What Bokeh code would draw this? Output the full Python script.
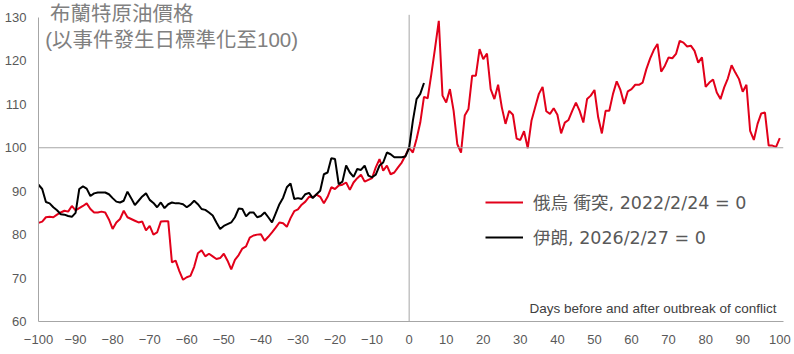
from bokeh.plotting import figure
from bokeh.models import Span, Label, Legend, LegendItem, FixedTicker
from bokeh.embed import file_html
from bokeh.resources import INLINE

# ---- data ----
days_russia = list(range(-100, 101))
brent_russia = [
    82.7, 83.0, 84.0, 84.1, 84.0, 84.6, 85.1, 85.5, 85.3, 86.6,
    85.6, 86.1, 86.6, 87.2, 85.9, 85.1, 85.1, 85.3, 85.1, 83.5,
    81.3, 82.8, 83.6, 85.5, 84.0, 83.6, 83.2, 82.8, 83.0, 81.0,
    82.0, 80.0, 80.5, 83.0, 83.1, 83.1,
    73.6, 74.0, 71.6, 69.6, 70.2, 70.5, 72.6, 75.7, 76.4, 75.0,
    75.6, 75.0, 74.4, 74.6, 75.6, 74.0, 72.0, 74.2, 75.3, 76.8,
    77.3, 79.3, 79.8, 80.0, 80.1, 78.6, 79.5,
    80.5, 81.6, 82.8, 82.6, 81.8, 83.8, 85.4, 85.8, 86.9, 87.6,
    88.7, 88.6, 89.2, 88.7, 87.2, 88.7, 90.9, 90.5, 91.3, 91.5,
    92.0,
    90.3, 92.0, 93.0, 93.8, 92.2, 92.6, 93.0, 95.5, 97.4,
    94.7, 95.9, 93.9, 94.3, 95.5, 96.6, 98.2, 100.0,
    98.9, 102.0, 105.8, 111.7, 111.4, 117.0, 123.0, 129.2, 112.0, 110.4,
    113.5, 108.5, 100.8, 98.9, 107.4, 108.9, 116.6, 116.6, 122.7, 120.4,
    121.7, 113.5, 111.2, 114.5, 109.3, 105.5, 108.5, 107.6, 102.1, 101.8,
    103.8, 99.9,
    106.2, 109.3, 112.4, 114.0, 108.4, 107.8, 109.1, 107.6,
    103.3, 105.8, 106.4, 108.5, 110.4, 108.5, 105.8, 111.2, 112.0, 113.3,
    107.0, 103.3, 108.5, 108.5, 112.4, 115.3, 113.3, 110.1, 113.0, 113.5,
    114.5, 114.5, 115.0, 118.1, 120.5,
    122.5, 123.9, 117.5, 118.9, 120.8,
    120.6, 121.6, 124.6, 124.2, 123.3, 123.5, 122.3, 119.6, 120.8, 114.0,
    115.0, 115.7, 112.7, 111.2, 113.9, 116.0, 119.0, 117.3, 115.8, 112.9,
    114.5, 103.9, 101.8, 105.5, 107.9, 108.1, 100.5, 100.5, 100.2, 102.2,
]

days_iran = list(range(-100, 5))
brent_iran = [
    91.5, 90.5, 87.5, 87.2, 86.3, 85.6, 84.7, 84.6, 84.3, 84.1,
    85.0, 90.5, 91.1, 90.6, 88.9, 89.5, 89.7, 89.7, 89.7, 89.3,
    88.4, 87.6, 87.4, 87.8, 89.9, 88.4, 86.8, 87.8, 88.8, 89.5,
    88.0, 87.3, 86.3,
    87.4, 86.1, 87.0, 87.4, 87.2, 87.2, 87.0, 86.3, 86.9, 87.8,
    87.0, 85.9, 85.7, 85.1, 84.4, 82.8, 81.3, 82.0, 82.4, 82.8,
    84.0, 86.0, 85.9, 84.2, 85.1, 85.1, 84.0, 84.3, 85.1, 84.0,
    82.8, 84.9, 87.0, 88.5, 90.9, 91.8, 88.2, 88.4, 88.2, 89.3,
    89.6, 88.4, 89.3, 90.1, 93.9, 94.3, 97.6, 97.4, 91.6, 92.2,
    95.9, 94.3, 93.3, 95.1, 94.9, 95.9, 93.6, 93.2, 93.8, 95.9,
    96.6, 98.9, 98.5, 97.8, 97.8, 97.8, 98.0, 100.0,
    106.2, 111.2, 112.4, 114.9,
]

x_ticks = list(range(-100, 101, 10))
y_ticks = list(range(60, 131, 10))

title_lines = ["布蘭特原油價格", "(以事件發生日標準化至100)"]
label_russia = "俄烏 衝突, 2022/2/24 = 0"
label_iran = "伊朗, 2026/2/27 = 0"
x_caption = "Days before and after outbreak of conflict"

RED = "#e2001a"
GRAY_AXIS = "#a6a6a6"
TEXT = "#595959"
TITLE_FONT = "'Liberation Sans', 'Noto Sans CJK TC'"
LEGEND_FONT = "'DejaVu Sans', 'Noto Sans CJK TC'"

y_lo, y_hi = y_ticks[0], y_ticks[-1]
y_view_top = 133.9      # a little head-room above the 130 tick for the title

p = figure(width=794, height=354, x_range=(-100, 101), y_range=(y_lo, y_view_top),
           output_backend="svg", toolbar_location=None,
           min_border_left=38, min_border_right=11,
           min_border_top=0, min_border_bottom=33)
p.xgrid.visible = False
p.ygrid.visible = False
p.outline_line_color = None
p.background_fill_color = "white"
p.border_fill_color = "white"

for ax in (p.xaxis[0], p.yaxis[0]):
    ax.axis_line_color = GRAY_AXIS
    ax.axis_line_width = 1
    ax.major_tick_line_color = None
    ax.minor_tick_line_color = None
    ax.major_tick_out = 0
    ax.major_tick_in = 0
    ax.minor_tick_out = 0
    ax.minor_tick_in = 0
    ax.major_label_text_font = "Liberation Sans"
    ax.major_label_text_font_size = "13px"
    ax.major_label_text_color = TEXT
p.xaxis[0].ticker = FixedTicker(ticks=x_ticks)
p.yaxis[0].ticker = FixedTicker(ticks=y_ticks)
p.yaxis[0].bounds = (y_lo, y_hi)
p.xaxis[0].major_label_standoff = 13
p.yaxis[0].major_label_standoff = 12

# reference lines: day 0 and index level 100
p.segment(x0=[0], y0=[y_lo], x1=[0], y1=[y_hi + 0.6], line_color=GRAY_AXIS, line_width=1)
p.add_layout(Span(location=100, dimension="width", line_color=GRAY_AXIS, line_width=1))

r_red = p.line(days_russia, brent_russia, line_color=RED, line_width=2)
r_blk = p.line(days_iran, brent_iran, line_color="black", line_width=2)

legend = Legend(items=[LegendItem(label=label_russia, renderers=[r_red]),
                       LegendItem(label=label_iran, renderers=[r_blk])],
                location=(447, 72), orientation="vertical",
                glyph_width=38, glyph_height=20, label_height=20,
                label_standoff=10, spacing=10, padding=0, margin=0,
                border_line_color=None, background_fill_alpha=0,
                label_text_font=LEGEND_FONT, label_text_font_size="17.5px",
                label_text_color=TEXT)
p.add_layout(legend)

p.add_layout(Label(x=-96.9, y=131.0, text=title_lines[0], text_font=TITLE_FONT,
                   text_font_size="20.5px", text_color="#808080",
                   text_baseline="middle", text_align="left"))
p.add_layout(Label(x=-98.2, y=125.0, text=title_lines[1], text_font=TITLE_FONT,
                   text_font_size="20.5px", text_color="#808080",
                   text_baseline="middle", text_align="left"))
p.add_layout(Label(x=99.1, y=63.1, text=x_caption, text_font="Liberation Sans",
                   text_font_size="13.5px", text_color="#404040",
                   text_baseline="middle", text_align="right"))

open("out.html", "w").write(file_html(p, INLINE))
